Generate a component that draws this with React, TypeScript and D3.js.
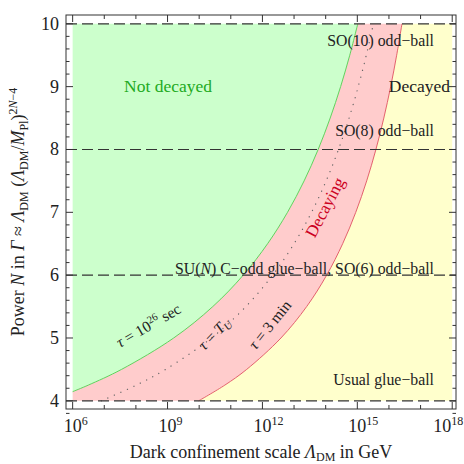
import React from 'react'
import * as d3 from 'd3'

// curves: log10(Lambda/GeV) against N
const nGreen = [4.146, 4.25, 4.5, 5, 5.5, 6, 6.5, 7, 7.5, 8, 8.5, 9, 9.5, 10]
const logGreen = [6, 6.495, 7.545, 9.194, 10.431, 11.393, 12.163, 12.793, 13.318, 13.762, 14.142, 14.472, 14.761, 15.015]

const nRed = [4, 4.25, 4.5, 5, 5.5, 6, 6.5, 7, 7.5, 8, 8.5, 9, 9.5, 10]
const logRed = [9.984, 10.812, 11.502, 12.586, 13.399, 14.031, 14.537, 14.951, 15.296, 15.588, 15.838, 16.055, 16.244, 16.412]

const nDotted = [4, 4.25, 4.5, 5, 5.5, 6, 6.5, 7, 7.5, 8, 8.5, 9, 9.5, 10]
const logDotted = [6.908, 8.015, 8.938, 10.389, 11.476, 12.322, 12.999, 13.553, 14.014, 14.405, 14.739, 15.029, 15.283, 15.507]

const majorX = [6, 9, 12, 15, 18]
const minorX = d3.range(6, 19)
const majorY = [4, 5, 6, 7, 8, 9, 10]
const minorY = d3.range(38, 102, 2).map(v => v / 10)
const dashedY = [4, 6, 8, 10]

const regionLabels = [
    { n: 9.72, text: 'SO(10) odd\u2212ball' },
    { n: 8.3, text: 'SO(8) odd\u2212ball' },
]

const W = 464
const H = 464
const left = 66
const right = 456
const top = 15
const bottom = 409

const x = d3.scaleLinear().domain([5.79, 18.12]).range([left, right])
const y = d3.scaleLinear().domain([3.87, 10.14]).range([bottom, top])

const pts = (ls: number[], ns: number[]) => ls.map((l, i) => [l, ns[i]] as [number, number])

const line = d3
    .line<[number, number]>()
    .x(d => x(d[0]))
    .y(d => y(d[1]))
    .curve(d3.curveCatmullRom)

const green = pts(logGreen, nGreen)
const red = pts(logRed, nRed)
const dotted = pts(logDotted, nDotted)

const asL = (p: string) => 'L' + p.slice(1)

const greenArea = `M${x(6)},${y(10)}` + asL(line(green) as string) + 'Z'
const pinkArea =
    (line(green) as string) +
    asL(line([...red].reverse()) as string) +
    `L${x(6)},${y(4)}Z`
const yellowArea = (line(red) as string) + `L${x(18)},${y(10)}L${x(18)},${y(4)}Z`

const serif = "'Liberation Serif', 'DejaVu Serif', serif"
const ink = '#222'

const Axes = () => (
    <g stroke="#333" strokeWidth={1}>
        <rect x={left} y={top} width={right - left} height={bottom - top} fill="none" />
        {minorX.map(v => {
            const len = majorX.includes(v) ? 7 : 4
            return (
                <g key={'x' + v}>
                    <line x1={x(v)} x2={x(v)} y1={bottom} y2={bottom - len} />
                    <line x1={x(v)} x2={x(v)} y1={top} y2={top + len} />
                </g>
            )
        })}
        {minorY.map(v => {
            const len = Math.abs(v - Math.round(v)) < 1e-6 ? 7 : 3.5
            return (
                <g key={'y' + v}>
                    <line x1={left} x2={left + len} y1={y(v)} y2={y(v)} />
                    <line x1={right} x2={right - len} y1={y(v)} y2={y(v)} />
                </g>
            )
        })}
    </g>
)

const App = () => {
    return (
        <div style={{ position: 'absolute', left: 0, top: 0 }}>
            <svg width={W} height={H} style={{ display: 'block' }} fontFamily={serif}>
                <rect width={W} height={H} fill="#fff" />
                <path d={greenArea} fill="#ccffcc" />
                <path d={pinkArea} fill="#ffcccc" />
                <path d={yellowArea} fill="#ffffcc" />
                <path d={line(green) as string} fill="none" stroke="#4fcf4f" strokeWidth={0.9} />
                <path d={line(red) as string} fill="none" stroke="#e05060" strokeWidth={0.9} />
                <path
                    d={line(dotted) as string}
                    fill="none"
                    stroke="#666"
                    strokeWidth={1.3}
                    strokeDasharray="0.1,7"
                    strokeLinecap="round"
                />
                {dashedY.map(v => (
                    <line
                        key={v}
                        x1={left}
                        x2={right}
                        y1={y(v)}
                        y2={y(v)}
                        stroke="#333"
                        strokeWidth={1.2}
                        strokeDasharray="11,5"
                    />
                ))}
                <Axes />

                {/* tick labels */}
                {majorX.map(v => (
                    <text key={v} x={x(v) - (v === 18 ? 19 : 9)} y={432} fontSize={18} fill={ink}>
                        10<tspan fontSize={12} dy={-7}>{v}</tspan>
                    </text>
                ))}
                {majorY.map(v => (
                    <text key={v} x={59} y={y(v) + 6} textAnchor="end" fontSize={18} fill={ink}>
                        {v}
                    </text>
                ))}

                {/* region labels */}
                <text x={168} y={92} textAnchor="middle" fontSize={17.5} fill="#22aa22">Not decayed</text>
                <text x={450} y={92} textAnchor="end" fontSize={17.5} fill={ink}>Decayed</text>
                {regionLabels.map(d => (
                    <text key={d.text} x={434} y={y(d.n) + 5} textAnchor="end" fontSize={15.8} fill={ink}>
                        {d.text}
                    </text>
                ))}
                <text x={434} y={y(6.09) + 5} textAnchor="end" fontSize={15.8} fill={ink}>
                    SU(<tspan fontStyle="italic">N</tspan>) C{'\u2212'}odd glue{'\u2212'}ball, SO(6) odd{'\u2212'}ball
                </text>
                <text x={434} y={y(4.33) + 5} textAnchor="end" fontSize={15.8} fill={ink}>
                    Usual glue{'\u2212'}ball
                </text>

                {/* curve labels */}
                <text transform="translate(151,330) rotate(-30)" textAnchor="middle" fontSize={15.5} fill={ink}>
                    <tspan fontStyle="italic">τ</tspan> = 10<tspan fontSize={10.5} dy={-6}>26</tspan>
                    <tspan dy={6}> sec</tspan>
                </text>
                <text transform="translate(218,337) rotate(-46)" textAnchor="middle" fontSize={15.5} fill={ink}>
                    <tspan fontStyle="italic">τ</tspan> = <tspan fontStyle="italic">T</tspan>
                    <tspan fontStyle="italic" fontSize={11} dy={3}>U</tspan>
                </text>
                <text transform="translate(274,328) rotate(-51)" textAnchor="middle" fontSize={15.5} fill={ink}>
                    <tspan fontStyle="italic">τ</tspan> = 3 min
                </text>
                <text transform="translate(330,210) rotate(-62)" textAnchor="middle" fontSize={17} fill="#cc0022">
                    Decaying
                </text>

                {/* axis titles */}
                <text x={(left + right) / 2} y={458} textAnchor="middle" fontSize={18} fill={ink}>
                    Dark confinement scale <tspan fontStyle="italic">Λ</tspan>
                    <tspan fontSize={12} dy={3}>DM</tspan>
                    <tspan dy={-3}> in GeV</tspan>
                </text>
                <text
                    transform={`translate(24,${(top + bottom) / 2}) rotate(-90)`}
                    textAnchor="middle"
                    fontSize={18}
                    fill={ink}
                >
                    Power <tspan fontStyle="italic">N</tspan> in <tspan fontStyle="italic">Γ</tspan> ≈{' '}
                    <tspan fontStyle="italic">Λ</tspan>
                    <tspan fontSize={12} dy={4}>DM</tspan>
                    <tspan dy={-4}> (</tspan>
                    <tspan fontStyle="italic">Λ</tspan>
                    <tspan fontSize={12} dy={4}>DM</tspan>
                    <tspan dy={-4}>/</tspan>
                    <tspan fontStyle="italic">M</tspan>
                    <tspan fontSize={12} dy={4}>Pl</tspan>
                    <tspan dy={-4}>)</tspan>
                    <tspan fontSize={12} dy={-7}>2<tspan fontStyle="italic">N</tspan>{'\u2212'}4</tspan>
                </text>
            </svg>
        </div>
    )
}

export default App
